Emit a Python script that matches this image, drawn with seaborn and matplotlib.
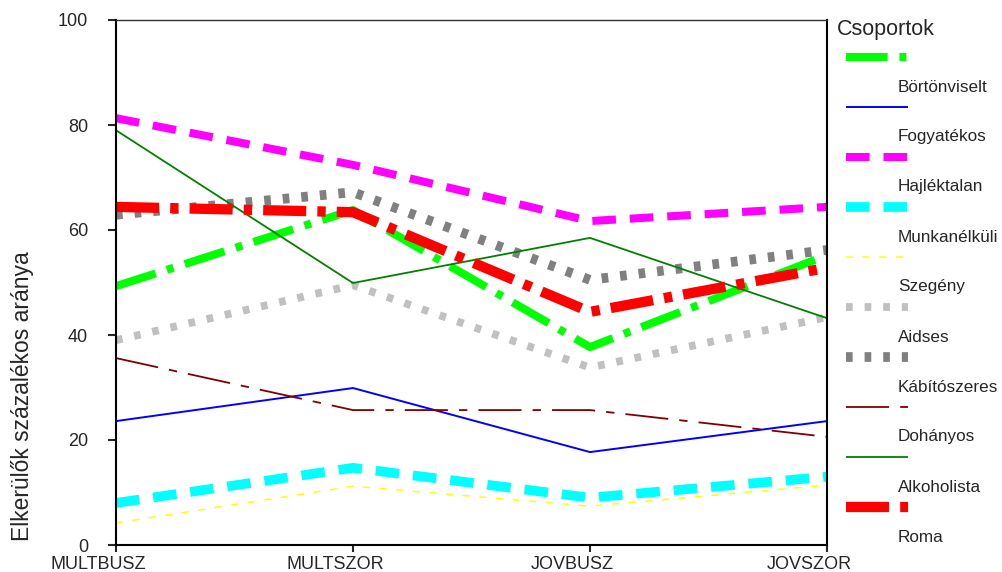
import matplotlib
matplotlib.use("Agg")
import matplotlib.pyplot as plt
import matplotlib.transforms as mtransforms
import seaborn as sns
import pandas as pd

# Survey periods on the x axis
periods = ['MULTBUSZ', 'MULTSZOR', 'JOVBUSZ', 'JOVSZOR']

# Percentage of avoiders per group
roma = [49.3, 63.8, 37.7, 55.2]
bortonviselt = [23.6, 29.9, 17.7, 23.6]
fogyatekos = [81.3, 72.4, 61.7, 64.4]
hajlektalan = [8.0, 14.7, 9.0, 13.0]
munkanelkuli = [4.2, 11.2, 7.4, 11.4]
szegeny = [39.0, 49.5, 33.8, 43.4]
aidses = [62.9, 67.2, 50.5, 56.2]
kabitoszeres = [35.6, 25.7, 25.7, 20.6]
dohanyos = [79.0, 49.9, 58.5, 43.2]
alkoholista = [64.4, 63.4, 44.4, 52.8]

groups = ['Roma', 'Börtönviselt', 'Fogyatékos', 'Hajléktalan', 'Munkanélküli',
          'Szegény', 'Aidses', 'Kábítószeres', 'Dohányos', 'Alkoholista']
values = [roma, bortonviselt, fogyatekos, hajlektalan, munkanelkuli,
          szegeny, aidses, kabitoszeres, dohanyos, alkoholista]

# Build a long table for seaborn
df = pd.DataFrame([(g, p, v) for g, vals in zip(groups, values)
                   for p, v in zip(periods, vals)],
                  columns=['Csoport', 'Idoszak', 'Arany'])

# Line styles (colour, width in pt, dash pattern in pt)
colors = {'Roma': '#00ff00', 'Börtönviselt': '#0000ff', 'Fogyatékos': '#ff00ff',
          'Hajléktalan': '#00ffff', 'Munkanélküli': '#ffff00',
          'Szegény': '#c0c0c0', 'Aidses': '#808080', 'Kábítószeres': '#800000',
          'Dohányos': '#008000', 'Alkoholista': '#ff0000'}
widths = {'Roma': 5.8, 'Börtönviselt': 1.4, 'Fogyatékos': 5.8,
          'Hajléktalan': 7.0, 'Munkanélküli': 1.1, 'Szegény': 5.6,
          'Aidses': 7.0, 'Kábítószeres': 1.3, 'Dohányos': 1.3,
          'Alkoholista': 7.4}
dashes = {'Roma': (30, 8.5, 5, 8.5), 'Börtönviselt': '', 'Fogyatékos': (17, 10),
          'Hajléktalan': (17, 10), 'Munkanélküli': (5, 7),
          'Szegény': (4.8, 8.6), 'Aidses': (4.8, 8.6),
          'Kábítószeres': (31, 8, 6, 8), 'Dohányos': '',
          'Alkoholista': (31, 8, 6, 8)}

sns.set_style('white')
plt.rcParams['font.family'] = ['Liberation Sans', 'DejaVu Sans']
plt.rcParams['lines.scale_dashes'] = False

fig = plt.figure(figsize=(10.02, 5.72), dpi=100)
ax = fig.add_axes([116 / 1002, 27 / 572, 711 / 1002, 525 / 572])

sns.lineplot(data=df, x='Idoszak', y='Arany', hue='Csoport', style='Csoport',
             size='Csoport', palette=colors, dashes=dashes, sizes=widths,
             sort=False, errorbar=None, legend=False, ax=ax)

ax.set_xlim(0, 3)
ax.set_ylim(0, 100)
ax.set_yticks([0, 20, 40, 60, 80, 100])
ax.set_xlabel('')
ax.set_ylabel('Elkerülők százalékos aránya', fontsize=16.5)
ax.yaxis.set_label_coords(-0.116, 0.283)

for side in ['left', 'bottom', 'right']:
    ax.spines[side].set_color('black')
    ax.spines[side].set_linewidth(1.5)
ax.spines['top'].set_color('#333333')
ax.spines['top'].set_linewidth(1.0)

ax.tick_params(axis='y', direction='out', length=6, width=1.5, pad=14,
               labelsize=13, left=True)
ax.tick_params(axis='x', direction='out', length=5, width=1.5, pad=3,
               labelsize=13, bottom=True)

# x labels sit a little left of their ticks in the original
shift = mtransforms.ScaledTranslation(-18 / 100, 0, fig.dpi_scale_trans)
for lab in ax.get_xticklabels():
    lab.set_transform(lab.get_transform() + shift)

# Legend drawn in its own axes: label sits between the sample lines
leg = fig.add_axes([830 / 1002, 0, 172 / 1002, 1])
leg.set_xlim(0, 172)
leg.set_ylim(572, 0)
leg.axis('off')
leg.text(7, 30, 'Csoportok', fontsize=15.5, va='center', ha='left')
leg_labels = groups[1:] + groups[:1]
for i, g in enumerate(groups):
    ls = '-' if dashes[g] == '' else (0, dashes[g])
    leg.plot([16, 78], [57 + 50 * i] * 2, color=colors[g],
             linewidth=widths[g], linestyle=ls, solid_capstyle='butt')
    leg.text(68, 87 + 50 * i, leg_labels[i], fontsize=12.3, va='center',
             ha='left')

fig.savefig('out.png', dpi=100, facecolor='white')
